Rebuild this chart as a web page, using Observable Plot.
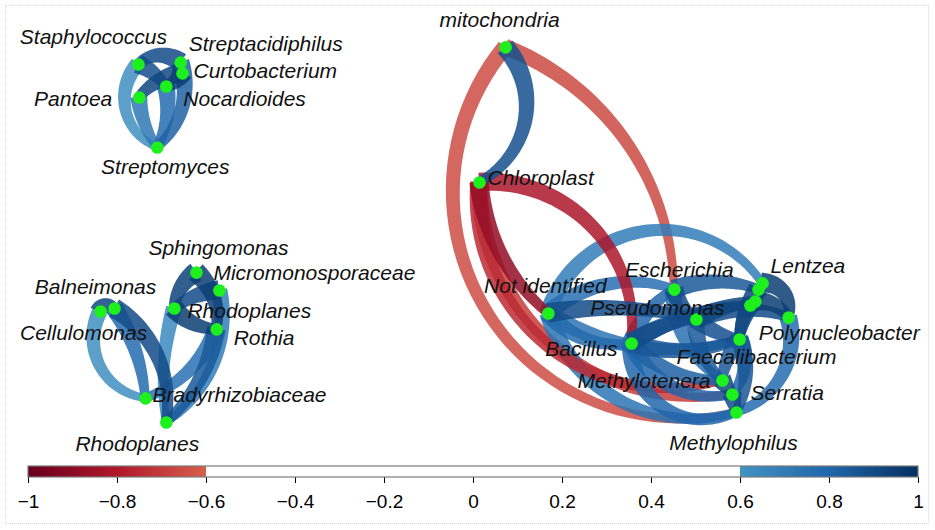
<!DOCTYPE html>
<html>
<head>
<meta charset="utf-8">
<script src="https://cdn.jsdelivr.net/npm/d3@7"></script>
<script src="https://cdn.jsdelivr.net/npm/@observablehq/plot@0.6"></script>
<style>
  html, body { margin: 0; padding: 0; background: #fff; }
  #wrap { position: relative; width: 935px; height: 530px; background: #fff; overflow: hidden; }
  #frame { position: absolute; left: 5px; top: 5px; width: 922px; height: 517px; border: 1px dotted #d9d9d9; pointer-events: none; }
  #chart svg { display: block; }
</style>
</head>
<body>
<div id="wrap"><div id="chart"></div><div id="frame"></div></div>
<script>
// ---------- DATA ----------
const nodeIds = ["Sta","Spc","Cur","Noc","Pan","Stm","Sph","Mic","RhoU","Rot","Bal","Cel","Bra","RhoL","Mit","Chl","NotI","Esc","Pse","Bac","Len1","Len2","Len3","Len4","Pol","Fae","Mtt","Ser","Mph"];
const nodeLabels = ["Staphylococcus","Streptacidiphilus","Curtobacterium","Nocardioides","Pantoea","Streptomyces","Sphingomonas","Micromonosporaceae","Rhodoplanes","Rothia","Balneimonas","Cellulomonas","Bradyrhizobiaceae","Rhodoplanes","mitochondria","Chloroplast","Not identified","Escherichia","Pseudomonas","Bacillus","Lentzea","","","","Polynucleobacter","Faecalibacterium","Methylotenera","Serratia","Methylophilus"];
// layout coordinates (qgraph-like, -1..1)
const nodeX = [-0.738,-0.644,-0.640,-0.676,-0.736,-0.696,-0.609,-0.558,-0.658,-0.564,-0.791,-0.822,-0.722,-0.676,0.078,0.020,0.173,0.453,0.502,0.358,0.649,0.640,0.633,0.622,0.707,0.598,0.560,0.582,0.591];
const nodeY = [0.722,0.730,0.683,0.626,0.578,0.361,-0.183,-0.261,-0.339,-0.430,-0.339,-0.352,-0.730,-0.835,0.796,0.209,-0.361,-0.257,-0.387,-0.491,-0.230,-0.257,-0.309,-0.326,-0.378,-0.474,-0.652,-0.713,-0.791];

const edgeFrom = ["Sta","Pan","Spc","Cur","Noc","Spc","Sta","Cur",
  "Cel","Bal","Bal","RhoU","Rot","Mic","Sph","Sph","Mic","RhoU","Cel","Rot",
  "Mit","Mit","Chl","Chl","Chl","Chl","Mit","NotI","NotI","NotI","NotI","Bac","Esc","Pse","Bac","Bac","Pse","Len1","Len4","Fae","Mtt","Ser","Pol","Fae","Bac","Len3","Esc","Bac",
  "NotI","Esc","Pse","Bac","NotI","Pse","Len2","Fae","Bac"];
const edgeTo = ["Stm","Stm","Sta","Pan","Stm","Stm","Noc","Noc",
  "Bra","RhoL","Bra","RhoL","Bra","RhoL","Rot","RhoU","RhoU","Rot","Bal","RhoL",
  "Mph","Esc","Bac","Mtt","Ser","NotI","Chl","Len1","Pse","Bac","Mph","Mph","Len2","Len3","Esc","Pse","Fae","Pol","Fae","Mtt","Ser","Mph","Mph","Ser","Fae","Pol","Mtt","Mtt",
  "Esc","Pse","Mtt","Ser","Fae","Pol","Fae","Mph","Len4"];
const edgeR = [0.62,0.72,0.90,0.92,0.78,0.82,0.88,0.95,
  0.62,0.90,0.78,0.64,0.75,0.70,0.95,0.93,0.90,0.95,0.92,0.85,
  -0.65,-0.66,-0.82,-0.75,-0.70,-0.88,0.88,0.70,0.90,0.78,0.74,0.80,0.85,0.92,0.80,0.90,0.88,0.95,0.90,0.85,0.92,0.90,0.78,0.80,0.86,0.95,0.75,0.82,
  0.76,0.90,0.85,0.80,0.74,0.90,0.92,0.86,0.84];

const colorbarTicks = [-1, -0.8, -0.6, -0.4, -0.2, 0, 0.2, 0.4, 0.6, 0.8, 1];

// ---------- STYLE (curvature of each edge, label placement) ----------
const edgeBend = [55,15,40,20,-20,-35,-15,-25,
  55,-35,-15,12,-25,-35,-30,25,15,25,-60,-20,
  72,-34,-50,56,50,22,-52,-64,-12,30,45,60,-20,-10,-20,-15,15,-55,10,15,0,0,-45,-35,20,-30,30,25,
  -30,20,25,40,25,-20,15,-25,-15];
const labelStyle = {
  Sta:[-45,-27,"middle"], Spc:[8,-18,"start"], Cur:[11,-2,"start"], Noc:[17,13,"start"], Pan:[-27,2,"end"], Stm:[8,20,"middle"],
  Sph:[22,-24,"middle"], Mic:[-6,-17,"start"], RhoU:[13,3,"start"], Rot:[17,9,"start"], Bal:[-19,-21,"middle"], Cel:[-17,22,"middle"], Bra:[7,-3,"start"], RhoL:[-29,22,"middle"],
  Mit:[-6,-27,"middle"], Chl:[8,-4,"start"], NotI:[-3,-27,"middle"], Esc:[5,-19,"middle"], Pse:[-39,-11,"middle"], Bac:[-14,6,"end"], Len1:[8,-17,"start"],
  Pol:[-30,16,"start"], Fae:[-63,18,"start"], Mtt:[-12,1,"end"], Ser:[18,-1,"start"], Mph:[-3,31,"middle"]
};

// ---------- BUILD ----------
const nodes = nodeIds.map((id, i) => ({id, label: nodeLabels[i], x: nodeX[i], y: nodeY[i]}));
const byId = new Map(nodes.map(d => [d.id, d]));
const edges = edgeFrom.map((f, i) => ({source: byId.get(f), target: byId.get(edgeTo[i]), r: edgeR[i], bend: edgeBend[i]}))
  .sort((a, b) => Math.abs(a.r) - Math.abs(b.r));

const colorOptions = {
  type: "linear",
  domain: [-1, -0.8, -0.6, -0.5999, 0.5999, 0.6, 0.8, 1],
  range: ["#67001f", "#b2182b", "#d6604d", "#ffffff", "#ffffff", "#4393c3", "#2166ac", "#053061"],
  interpolate: "rgb"
};
const colorScale = Plot.scale({color: colorOptions});

function arcPoints(ax, ay, bx, by, bendDeg, n) {
  const dx = bx - ax, dy = by - ay, L = Math.hypot(dx, dy) || 1;
  const ux = dx / L, uy = dy / L, rx = -uy, ry = ux;
  const pts = [];
  if (Math.abs(bendDeg) < 0.5) {
    for (let i = 0; i <= n; i++) { const t = i / n; pts.push([ax + dx * t, ay + dy * t, rx, ry, t]); }
    return pts;
  }
  const th = Math.abs(bendDeg) * Math.PI / 180, s = Math.sign(bendDeg);
  const R = L / (2 * Math.sin(th)), off = (L / 2) / Math.tan(th);
  const cx = (ax + bx) / 2 - s * rx * off, cy = (ay + by) / 2 - s * ry * off;
  const a0 = Math.atan2(ay - cy, ax - cx), a1 = Math.atan2(by - cy, bx - cx);
  let da = a1 - a0;
  while (da > Math.PI) da -= 2 * Math.PI;
  while (da < -Math.PI) da += 2 * Math.PI;
  for (let i = 0; i <= n; i++) {
    const t = i / n, a = a0 + da * t;
    pts.push([cx + R * Math.cos(a), cy + R * Math.sin(a), Math.cos(a), Math.sin(a), t]);
  }
  return pts;
}

function edgesMark(index, scales) {
  const g = d3.create("svg:g");
  for (const e of edges) {
    const ax = scales.x(e.source.x), ay = scales.y(e.source.y);
    const bx = scales.x(e.target.x), by = scales.y(e.target.y);
    const w0 = 7 + 14 * Math.abs(e.r), w1 = w0 * 0.5;
    const pts = arcPoints(ax, ay, bx, by, e.bend, 48);
    const left = pts.map(([x, y, nx, ny, t]) => { const w = (w0 * (1 - t) + w1 * t) / 2; return [x + nx * w, y + ny * w]; });
    const right = pts.map(([x, y, nx, ny, t]) => { const w = (w0 * (1 - t) + w1 * t) / 2; return [x - nx * w, y - ny * w]; }).reverse();
    const d = "M" + left.concat(right).map(p => p[0].toFixed(2) + "," + p[1].toFixed(2)).join("L") + "Z";
    g.append("path").attr("d", d).attr("fill", colorScale.apply(e.r)).attr("fill-opacity", 0.85);
  }
  return g.node();
}

const labelMarks = nodes.filter(d => d.label).map(d => {
  const [dx, dy, anchor] = labelStyle[d.id];
  return Plot.text([d], {x: "x", y: "y", text: "label", dx, dy, textAnchor: anchor,
    fontStyle: "italic", fontSize: 21, fill: "#111"});
});

const main = Plot.plot({
  width: 935, height: 460,
  margin: 0,
  style: {fontFamily: "'Liberation Sans', Arial, sans-serif", background: "transparent"},
  x: {domain: [-1, 1], range: [20, 920], axis: null},
  y: {domain: [-1, 1], range: [460, 0], axis: null},
  marks: [
    edgesMark,
    Plot.dot(nodes, {x: "x", y: "y", r: 6.3, fill: "#1ef01e"}),
    ...labelMarks
  ]
});

const step = 0.005;
const ramp = d3.range(-1, 1, step);
const fmt = d => d === 0 ? "0" : String(d).replace("-", "\u2212");
const bar = Plot.plot({
  width: 935, height: 70,
  marginLeft: 28, marginRight: 17, marginTop: 6, marginBottom: 53,
  style: {fontFamily: "'Liberation Sans', Arial, sans-serif", fontSize: "19px", background: "transparent", color: "#000"},
  x: {domain: [-1, 1], ticks: colorbarTicks, tickFormat: fmt, tickSize: 6, tickPadding: 11, label: null},
  y: {domain: [0, 1], axis: null},
  color: colorOptions,
  marks: [
    Plot.rect(ramp, {x1: d => d, x2: d => Math.min(1, d + step * 1.6), y1: 0, y2: 1, fill: d => d + step / 2}),
    Plot.rect([0], {x1: -1, x2: 1, y1: 0, y2: 1, fill: "none", stroke: "#7a7a7a", strokeWidth: 1.2})
  ]
});

document.getElementById("chart").append(main, bar);
</script>
</body>
</html>
